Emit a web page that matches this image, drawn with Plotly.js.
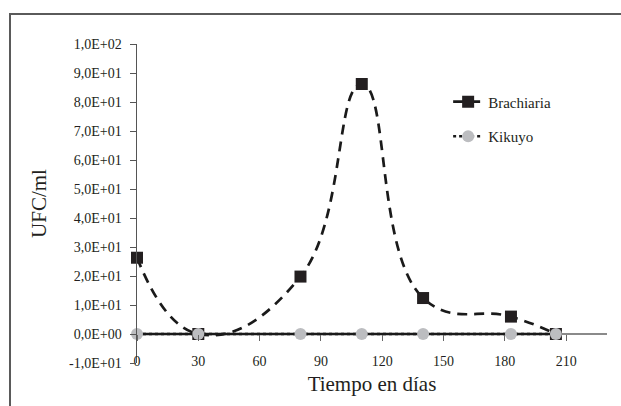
<!DOCTYPE html>
<html>
<head>
<meta charset="utf-8">
<script src="https://cdn.plot.ly/plotly-3.0.1.min.js"></script>
<style>
html,body{margin:0;padding:0;background:#fff;}
#chart{width:621px;height:406px;position:absolute;left:0;top:0;}
#frame{position:absolute;left:9px;top:13px;width:620px;height:400px;border-top:2px solid #5a5a5a;border-left:2px solid #5a5a5a;pointer-events:none;}
</style>
</head>
<body>
<div id="chart"></div>
<div id="frame"></div>
<script>
const dias = [0, 30, 80, 110, 140, 183, 205];
const brachiaria = [26.3, 0, 19.8, 86.2, 12.4, 6.0, 0];
const kikuyo = [0, 0, 0, 0, 0, 0, 0];
const yTickVals = [-10, 0, 10, 20, 30, 40, 50, 60, 70, 80, 90, 100];
const yTickText = ["-1,0E+01","0,0E+00","1,0E+01","2,0E+01","3,0E+01","4,0E+01","5,0E+01","6,0E+01","7,0E+01","8,0E+01","9,0E+01","1,0E+02"];
const xTickVals = [0, 30, 60, 90, 120, 150, 180, 210];

const serif = "Liberation Serif, Times New Roman, serif";

const traces = [
  {x: dias, y: kikuyo, mode: 'lines', line: {color: '#1a1a1a', width: 2.5}, showlegend: false, hoverinfo: 'skip', cliponaxis: false},
  {x: dias, y: brachiaria, name: 'Brachiaria', mode: 'lines+markers', legendgroup: 'a', cliponaxis: false,
   line: {color: '#1a1a1a', width: 2.7, dash: '10px,7px', shape: 'spline', smoothing: 1.3},
   marker: {symbol: 'square', size: 12, color: '#231f20'}},
  {x: dias, y: kikuyo, name: 'Kikuyo', mode: 'lines+markers', legendgroup: 'b', cliponaxis: false,
   line: {color: '#1a1a1a', width: 2.5, dash: 'dot'},
   marker: {symbol: 'circle', size: 12, color: '#bcbdc0'}}
];

const layout = {
  width: 621, height: 406,
  margin: {l: 137, r: 14, t: 44, b: 43},
  paper_bgcolor: '#fff', plot_bgcolor: '#fff',
  font: {family: serif, color: '#231f20', size: 14},
  showlegend: true,
  legend: {x: 0.662, y: 0.87, xanchor: 'left', yanchor: 'top', traceorder: 'grouped', tracegroupgap: 12,
           font: {family: serif, size: 15, color: '#231f20'}, bgcolor: 'rgba(0,0,0,0)'},
  xaxis: {range: [0, 230], tickvals: xTickVals, showgrid: false, zeroline: false,
          anchor: 'free', position: 10/110, showline: false,
          ticks: 'outside', ticklen: 6, tickcolor: '#666', tickwidth: 1,
          ticklabelstandoff: 8,
          tickfont: {family: serif, size: 14, color: '#231f20'},
          title: {text: 'Tiempo en días', font: {family: serif, size: 21, color: '#231f20'}, standoff: 8}},
  yaxis: {range: [-10, 100], tickvals: yTickVals, ticktext: yTickText, showgrid: false,
          zeroline: true, zerolinecolor: '#8a8a8a', zerolinewidth: 2,
          showline: true, linecolor: '#555', linewidth: 1.5,
          ticks: 'outside', ticklen: 6, tickcolor: '#555',
          ticklabelstandoff: 5,
          tickfont: {family: serif, size: 14, color: '#231f20'},
          title: {text: 'UFC/ml', font: {family: serif, size: 21, color: '#231f20'}, standoff: 16}}
};

Plotly.newPlot('chart', traces, layout, {displayModeBar: false, staticPlot: true});
</script>
</body>
</html>
